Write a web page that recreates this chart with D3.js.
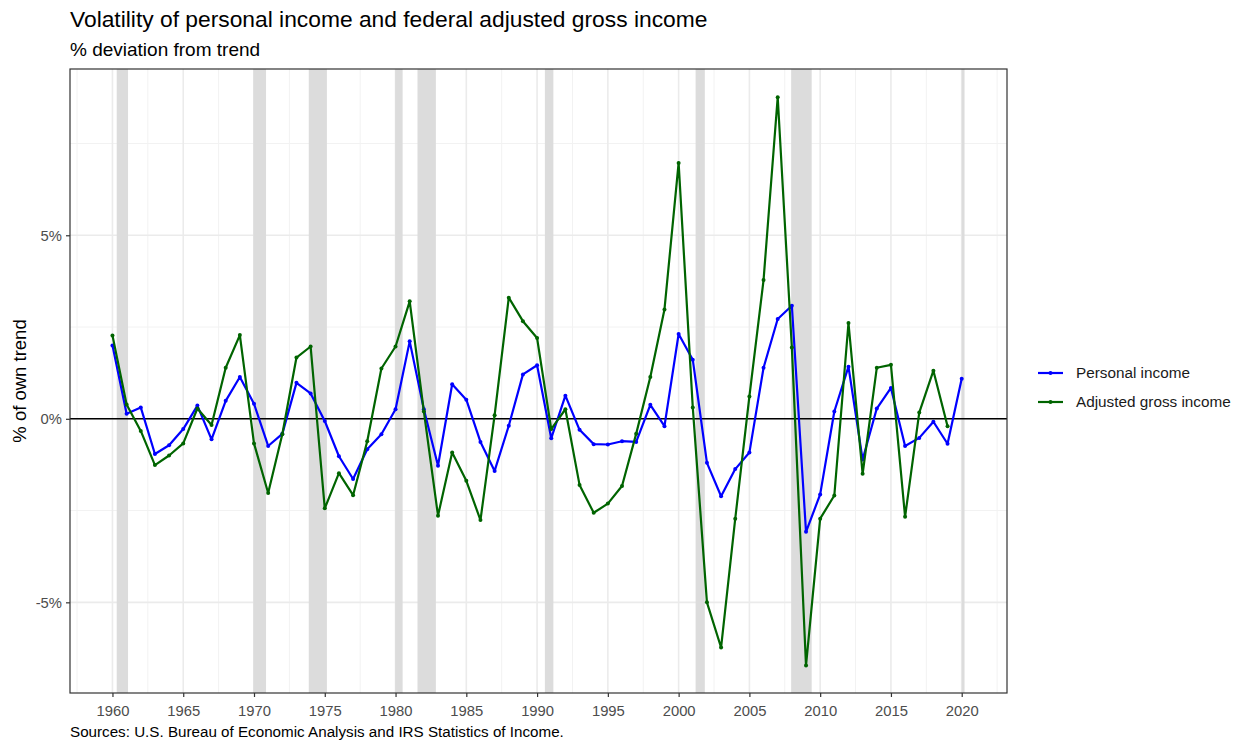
<!DOCTYPE html>
<html>
<head>
<meta charset="utf-8">
<script src="https://cdn.jsdelivr.net/npm/d3@7"></script>
<style>
  body { margin: 0; background: #fff; }
  text { font-family: "Liberation Sans", Arial, sans-serif; }
</style>
</head>
<body>
<div id="chart"></div>
<script>
var years = d3.range(1960, 2021);

var personalIncome = [
  2.0, 0.14, 0.31, -0.96, -0.72, -0.28, 0.36, -0.56, 0.49, 1.14,
  0.41, -0.74, -0.41, 0.98, 0.69, -0.06, -1.02, -1.64, -0.83, -0.42,
  0.26, 2.11, 0.26, -1.28, 0.94, 0.52, -0.63, -1.42, -0.19, 1.21,
  1.46, -0.53, 0.63, -0.3, -0.69, -0.7, -0.61, -0.63, 0.38, -0.2,
  2.31, 1.61, -1.2, -2.11, -1.37, -0.92, 1.39, 2.72, 3.08, -3.08,
  -2.06, 0.2, 1.42, -1.11, 0.28, 0.84, -0.74, -0.52, -0.08, -0.68,
  1.09
];

// no 2020 value for AGI
var adjustedGross = [
  2.27, 0.39, -0.33, -1.26, -1.0, -0.67, 0.28, -0.17, 1.39, 2.28,
  -0.67, -2.02, -0.42, 1.67, 1.97, -2.44, -1.48, -2.08, -0.61, 1.37,
  1.97, 3.2, 0.2, -2.64, -0.92, -1.69, -2.76, 0.1, 3.3, 2.66,
  2.2, -0.28, 0.26, -1.8, -2.56, -2.31, -1.83, -0.41, 1.14, 2.98,
  6.97, 0.31, -5.0, -6.23, -2.72, 0.61, 3.78, 8.76, 1.94, -6.72,
  -2.72, -2.09, 2.61, -1.5, 1.39, 1.47, -2.67, 0.17, 1.31, -0.2,
  null
];

// NBER recessions, start / end as decimal years
var recessionStart = [1960.3, 1969.95, 1973.87, 1979.97, 1981.55, 1990.55, 2001.2, 2007.95, 2020.0];
var recessionEnd   = [1961.1, 1970.85, 1975.15, 1980.5, 1982.85, 1991.15, 2001.85, 2009.4, 2020.2];

var yTicks = [-5, 0, 5];
var xTicks = d3.range(1960, 2021, 5);

var seriesNames = ["Personal income", "Adjusted gross income"];
var seriesColors = ["#0000ff", "#006400"];

var width = 1240, height = 742;
var margin = { top: 69, right: 233, bottom: 49, left: 70 };
var innerW = width - margin.left - margin.right,
    innerH = height - margin.top - margin.bottom;

var svg = d3.select("#chart").append("svg")
    .attr("width", width)
    .attr("height", height);

svg.append("text")
    .attr("x", 70).attr("y", 27)
    .style("font-size", "22.8px")
    .attr("fill", "#000")
    .text("Volatility of personal income and federal adjusted gross income");

svg.append("text")
    .attr("x", 70).attr("y", 56)
    .style("font-size", "19px")
    .attr("fill", "#000")
    .text("% deviation from trend");

var g = svg.append("g")
    .attr("transform", "translate(" + margin.left + "," + margin.top + ")");

var x = d3.scaleLinear().domain([1957.0, 2023.2]).range([0, innerW]);
var y = d3.scaleLinear().domain([-7.47, 9.53]).range([innerH, 0]);

// minor grid
var xMinor = d3.range(1957.5, 2023, 5);
var yMinor = [-2.5, 2.5, 7.5];
g.selectAll(".xminor").data(xMinor).enter().append("line")
    .attr("x1", function (d) { return x(d); })
    .attr("x2", function (d) { return x(d); })
    .attr("y1", 0).attr("y2", innerH)
    .attr("stroke", "#f2f2f2").attr("stroke-width", 1);
g.selectAll(".yminor").data(yMinor).enter().append("line")
    .attr("x1", 0).attr("x2", innerW)
    .attr("y1", function (d) { return y(d); })
    .attr("y2", function (d) { return y(d); })
    .attr("stroke", "#f2f2f2").attr("stroke-width", 1);

// major grid
g.selectAll(".xmajor").data(xTicks).enter().append("line")
    .attr("x1", function (d) { return x(d); })
    .attr("x2", function (d) { return x(d); })
    .attr("y1", 0).attr("y2", innerH)
    .attr("stroke", "#ebebeb").attr("stroke-width", 1.6);
g.selectAll(".ymajor").data(yTicks).enter().append("line")
    .attr("x1", 0).attr("x2", innerW)
    .attr("y1", function (d) { return y(d); })
    .attr("y2", function (d) { return y(d); })
    .attr("stroke", "#ebebeb").attr("stroke-width", 1.6);

// recession bars
g.selectAll(".rec").data(recessionStart).enter().append("rect")
    .attr("x", function (d) { return x(d); })
    .attr("width", function (d, i) { return x(recessionEnd[i]) - x(d); })
    .attr("y", 0).attr("height", innerH)
    .attr("fill", "#dcdcdc");

// zero line
g.append("line")
    .attr("x1", 0).attr("x2", innerW)
    .attr("y1", y(0)).attr("y2", y(0))
    .attr("stroke", "#000").attr("stroke-width", 1.4);

var allSeries = [personalIncome, adjustedGross];

var line = d3.line()
    .defined(function (d) { return d != null; })
    .x(function (d, i) { return x(years[i]); })
    .y(function (d) { return y(d); });

allSeries.forEach(function (vals, k) {
    g.append("path")
        .datum(vals)
        .attr("fill", "none")
        .attr("stroke", seriesColors[k])
        .attr("stroke-width", 2.2)
        .attr("stroke-linejoin", "round")
        .attr("d", line);
    var pts = vals.map(function (v, i) { return { year: years[i], v: v }; })
        .filter(function (d) { return d.v != null; });
    g.selectAll(".pt" + k).data(pts).enter().append("circle")
        .attr("cx", function (d) { return x(d.year); })
        .attr("cy", function (d) { return y(d.v); })
        .attr("r", 2)
        .attr("fill", seriesColors[k]);
});

// panel border
g.append("rect")
    .attr("width", innerW).attr("height", innerH)
    .attr("fill", "none").attr("stroke", "#333").attr("stroke-width", 1.2);

// axes
var xAxis = d3.axisBottom(x).tickValues(xTicks).tickFormat(d3.format("d"))
    .tickSize(4).tickPadding(8);
var yAxis = d3.axisLeft(y).tickValues(yTicks).tickFormat(function (d) { return d + "%"; })
    .tickSize(4).tickPadding(4);

var gx = g.append("g").attr("transform", "translate(0," + innerH + ")").call(xAxis);
var gy = g.append("g").call(yAxis);
[gx, gy].forEach(function (a) {
    a.select(".domain").remove();
    a.selectAll(".tick line").attr("stroke", "#333").attr("stroke-width", 1.2);
    a.selectAll(".tick text").attr("fill", "#4d4d4d")
        .style("font-size", "14.8px")
        .style("font-family", "'Liberation Sans', Arial, sans-serif");
});

svg.append("text")
    .attr("transform", "translate(26," + (margin.top + innerH / 2) + ") rotate(-90)")
    .attr("text-anchor", "middle")
    .style("font-size", "18.5px")
    .attr("fill", "#000")
    .text("% of own trend");

// legend
var legend = svg.append("g").attr("transform", "translate(1038,373)");
seriesNames.forEach(function (name, k) {
    var row = legend.append("g").attr("transform", "translate(0," + (k * 29) + ")");
    row.append("line")
        .attr("x1", 0).attr("x2", 25)
        .attr("stroke", seriesColors[k]).attr("stroke-width", 2.2);
    row.append("circle").attr("cx", 12.5).attr("r", 2).attr("fill", seriesColors[k]);
    row.append("text")
        .attr("x", 38).attr("dy", "0.35em")
        .style("font-size", "15.3px")
        .attr("fill", "#1a1a1a")
        .text(name);
});

svg.append("text")
    .attr("x", 70).attr("y", 737)
    .style("font-size", "15.2px")
    .attr("fill", "#000")
    .text("Sources: U.S. Bureau of Economic Analysis and IRS Statistics of Income.");
</script>
</body>
</html>
